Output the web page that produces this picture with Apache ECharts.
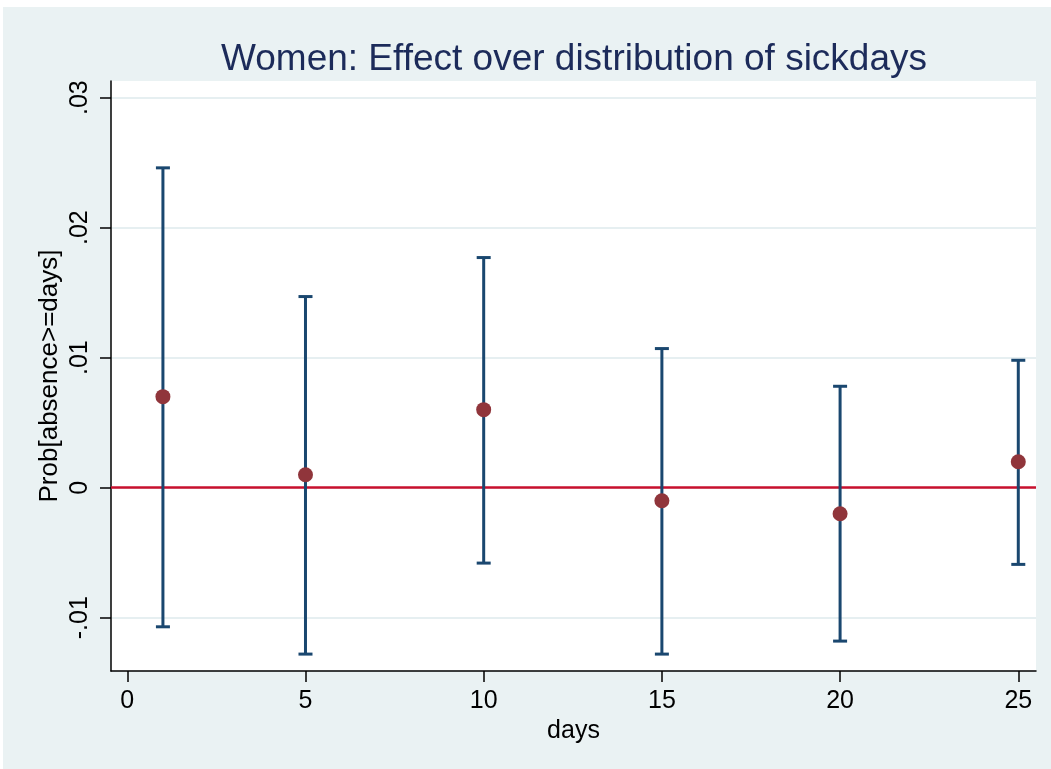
<!DOCTYPE html>
<html lang="en">
<head>
	<meta charset="UTF-8">
	<title>Women: Effect over distribution of sickdays</title>
	<script src="https://cdn.jsdelivr.net/npm/echarts@6/dist/echarts.min.js"></script>
	<style>
		html, body { margin: 0; padding: 0; background: #fff; }
		#main { position: absolute; left: 3px; top: 7px; width: 1048px; height: 762px; }
	</style>
</head>
<body>
	<div id="main"></div>
	<script>
		// data
		var days = [1, 5, 10, 15, 20, 25];
		var effect = [0.007, 0.001, 0.006, -0.001, -0.002, 0.002];
		var upper = [0.0246, 0.0147, 0.0177, 0.0107, 0.0078, 0.0098];
		var lower = [-0.0107, -0.0128, -0.0058, -0.0128, -0.0118, -0.0059];

		var xTicks = [0, 5, 10, 15, 20, 25];
		var yTicks = [-0.01, 0, 0.01, 0.02, 0.03];
		var yTickLabels = ['-.01', '0', '.01', '.02', '.03'];

		var font = "'Liberation Sans', Arial, sans-serif";
		var navy = '#1a476f';

		var chart = echarts.init(document.getElementById('main'));

		// error bar with caps
		function renderBar(params, api) {
			var x = api.value(0);
			var lo = api.coord([x, api.value(1)]);
			var hi = api.coord([x, api.value(2)]);
			var hw = 7;
			var st = { stroke: navy, lineWidth: 3 };
			return {
				type: 'group',
				children: [
					{ type: 'line', shape: { x1: hi[0], y1: hi[1], x2: lo[0], y2: lo[1] }, style: st },
					{ type: 'line', shape: { x1: hi[0] - hw, y1: hi[1], x2: hi[0] + hw, y2: hi[1] }, style: st },
					{ type: 'line', shape: { x1: lo[0] - hw, y1: lo[1], x2: lo[0] + hw, y2: lo[1] }, style: st }
				]
			};
		}

		var option = {
			backgroundColor: '#eaf2f3',
			animation: false,
			textStyle: { fontFamily: font },
			title: {
				text: 'Women: Effect over distribution of sickdays',
				left: 566,
				top: 29,
				textAlign: 'center',
				textStyle: { fontFamily: font, fontSize: 37, fontWeight: 'normal', color: '#1c2b5a' }
			},
			grid: {
				left: 108, right: 15, top: 74, bottom: 98,
				show: true, backgroundColor: '#fff', borderWidth: 0
			},
			xAxis: {
				type: 'value',
				min: -0.457, max: 25.497,
				name: 'days',
				nameLocation: 'middle',
				nameGap: 44,
				nameTextStyle: { fontFamily: font, fontSize: 25, color: '#000', verticalAlign: 'top' },
				axisLine: { onZero: false, lineStyle: { color: '#000', width: 1.5 } },
				axisTick: { length: 11, lineStyle: { color: '#000', width: 1.5 }, customValues: xTicks },
				axisLabel: { customValues: xTicks, margin: 18, fontSize: 25, color: '#000', fontFamily: font },
				splitLine: { show: false }
			},
			yAxis: {
				type: 'value',
				min: -0.0141, max: 0.03128,
				name: 'Prob[absence>=days]',
				nameLocation: 'middle',
				nameGap: 48,
				nameMoveOverlap: false,
				nameTextStyle: { fontFamily: font, fontSize: 26, color: '#000' },
				axisLine: { show: true, onZero: false, lineStyle: { color: '#000', width: 1.5 } },
				axisTick: { show: true, length: 11, lineStyle: { color: '#000', width: 1.5 }, customValues: yTicks },
				axisLabel: {
					customValues: yTicks, margin: 18, rotate: 90, fontSize: 25, color: '#000', fontFamily: font,
					formatter: function (v) {
						for (var i = 0; i < yTicks.length; i++) {
							if (Math.abs(yTicks[i] - v) < 1e-9) return yTickLabels[i];
						}
						return '';
					}
				},
				splitLine: { show: true, lineStyle: { color: '#e6eff1', width: 2 } }
			},
			series: [
				{
					type: 'custom',
					renderItem: renderBar,
					data: days.map(function (d, i) { return [d, lower[i], upper[i]]; }),
					encode: { x: 0, y: [1, 2] },
					z: 3,
					markLine: {
						silent: true,
						symbol: 'none',
						label: { show: false },
						lineStyle: { color: '#c8102e', width: 2.5, type: 'solid' },
						data: [{ yAxis: 0 }],
						z: 1
					}
				},
				{
					type: 'scatter',
					data: days.map(function (d, i) { return [d, effect[i]]; }),
					symbol: 'circle',
					symbolSize: 15,
					itemStyle: { color: '#90353b', opacity: 1 },
					z: 4
				}
			]
		};

		chart.setOption(option);
	</script>
</body>
</html>
